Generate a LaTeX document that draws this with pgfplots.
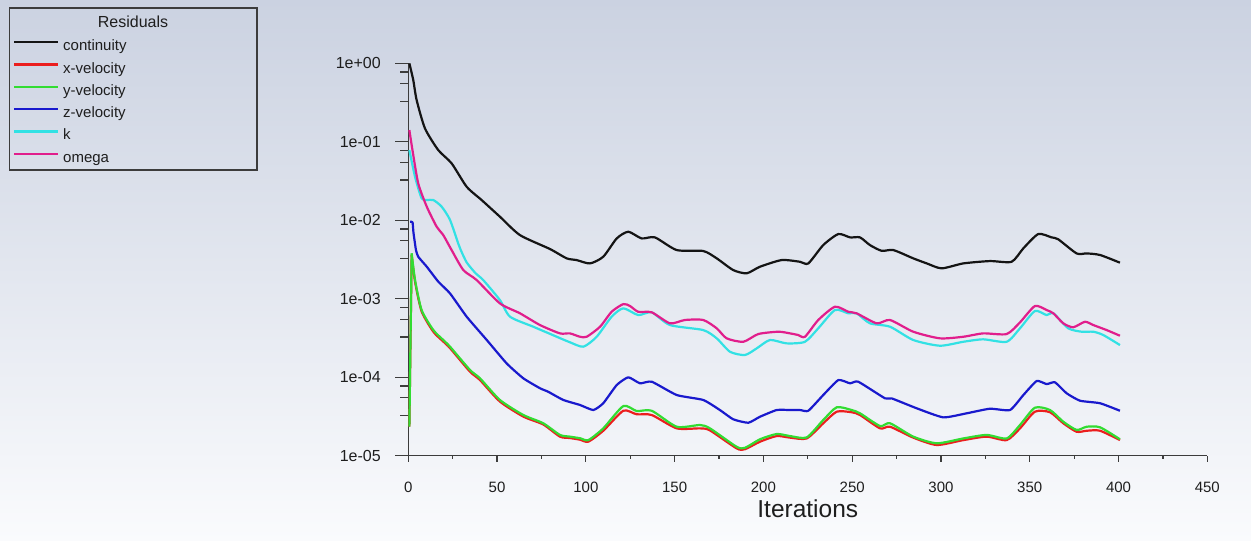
\documentclass[border=0pt]{standalone}
\usepackage{fontspec}
\setmainfont{Liberation Sans}
\usepackage{pgfplots}
\pgfplotsset{compat=1.18}

\definecolor{bgtop}{RGB}{203,210,225}
\definecolor{bgbot}{RGB}{250,251,253}
\definecolor{axcol}{RGB}{60,60,60}
\definecolor{txtcol}{RGB}{30,30,30}
\definecolor{ccont}{RGB}{20,20,20}
\definecolor{cxvel}{RGB}{235,30,30}
\definecolor{cyvel}{RGB}{50,220,50}
\definecolor{czvel}{RGB}{25,25,205}
\definecolor{ck}{RGB}{50,225,228}
\definecolor{comega}{RGB}{225,30,140}

\begin{document}
\begin{tikzpicture}[x=1pt,y=1pt]
  % background
  \shade[top color=bgtop, bottom color=bgbot] (0,0) rectangle (1251,541);
  % legend frame and title
  \draw[axcol, line width=1.5pt] (9.5,371) rectangle (257,533);
  \node[anchor=base, font=\fontsize{16}{19}\selectfont, text=txtcol] at (133,513.7) {Residuals};

  \begin{axis}[
    at={(408.3pt,85.3pt)}, anchor=south west,
    width=799pt, height=392.4pt, scale only axis,
    ymode=log,
    xmin=0, xmax=450, ymin=1e-5, ymax=1,
    axis x line=bottom, axis y line=left,
    axis line style={-, axcol, line width=1.3pt},
    tick style={axcol, line width=1.2pt},
    tick align=outside,
    major tick length=13pt, minor tick length=8pt,
    xtick={0,50,100,150,200,250,300,350,400,450},
    xticklabels={0,50,100,150,200,250,300,350,400,450},
    xtick style={dash pattern=on 0pt off 7pt on 6pt off 30pt},
    extra x ticks={25,75,125,175,225,275,325,375,425},
    extra x tick labels={},
    extra x tick style={xtick style={dash pattern=on 0pt off 10pt on 3pt off 30pt}},
    ytick={1e-5,1e-4,1e-3,1e-2,1e-1,1},
    yticklabels={1e-05,1e-04,1e-03,1e-02,1e-01,1e+00},
    minor ytick={3.25e-5,5.5e-5,7.75e-5,3.25e-4,5.5e-4,7.75e-4,3.25e-3,5.5e-3,7.75e-3,3.25e-2,5.5e-2,7.75e-2,3.25e-1,5.5e-1,7.75e-1},
    xticklabel style={anchor=base, yshift=-24pt, font=\fontsize{15}{18}\selectfont, text=txtcol},
    yticklabel style={anchor=east, xshift=-11pt, font=\fontsize{16}{19}\selectfont, text=txtcol},
    xlabel={Iterations},
    xlabel style={at={(axis description cs:0.5,-0.157)}, anchor=base, font=\fontsize{24.5}{28}\selectfont, text=txtcol},
    legend cell align=left,
    legend image code/.code={\draw[#1, line width=2.2pt] (0pt,5pt) -- (44pt,5pt);},
    legend style={at={(axis description cs:-0.4947,1.0601)}, anchor=north west,
      draw=none, fill=none, inner sep=0pt, outer sep=0pt, row sep=7.3pt,
      nodes={inner sep=0pt, text height=11pt, text depth=4pt,
        font=\fontsize{15}{18}\selectfont, text=txtcol},
      /tikz/every odd column/.append style={column sep=4pt}},
    every axis plot post/.append style={line width=2.2pt, line join=round},
  ]
    % continuity
    \addplot[ccont, smooth, tension=0.4] coordinates {
      (0.6,1.0) (2.8,0.611) (4.7,0.340) (9.4,0.148) (16.9,0.0783) (24.4,0.0531)
      (32.9,0.0267) (41.3,0.0181) (51.6,0.0111) (62.9,0.00647) (79.8,0.00430)
      (89.2,0.00327) (94.8,0.00311) (102.3,0.00282) (109.8,0.00343) (117.4,0.00587)
      (123.9,0.00714) (131.4,0.00587) (138.9,0.00605) (151.2,0.00417) (166.1,0.00406)
      (173.7,0.00327) (183,0.00232) (190.6,0.00211) (198.1,0.00256) (210.3,0.00311)
      (220.6,0.00296) (225.3,0.00282) (233.7,0.00483) (242.2,0.00667) (248.8,0.00605)
      (254.4,0.00605) (260,0.00483) (266.6,0.00408) (273.2,0.00417) (284.4,0.00327)
      (292,0.00282) (300.4,0.00244) (312.6,0.00282) (327.6,0.00302) (339.8,0.00296)
      (346.4,0.00439) (354.8,0.00667) (362.3,0.00605) (366.1,0.00571) (376.4,0.00378)
      (382.1,0.00378) (389.6,0.00361) (400.8,0.00288)
    };
    \addlegendentry{continuity}
    % x-velocity
    \addplot[cxvel, smooth, tension=0.4] coordinates {
      (1.9,3.6e-3) (3.8,1.65e-3) (7.5,6.9e-4) (14.1,3.8e-4) (19.7,2.85e-4)
      (23.5,2.35e-4) (34.7,1.18e-4) (40.4,9.2e-5) (51.6,4.9e-5) (64.8,3.15e-5) (76,2.5e-5)
      (85.4,1.75e-5) (91,1.68e-5) (96.7,1.6e-5) (101.4,1.51e-5) (109.8,2.08e-5)
      (121.1,3.74e-5) (128.6,3.37e-5) (137.1,3.30e-5) (151.2,2.23e-5) (164.3,2.23e-5)
      (169.9,2.1e-5) (184.9,1.24e-5) (189.6,1.21e-5) (198.1,1.51e-5) (207.5,1.78e-5)
      (215,1.70e-5) (224.4,1.66e-5) (233.7,2.59e-5) (241.3,3.64e-5) (249.7,3.58e-5)
      (254.4,3.30e-5) (265.7,2.23e-5) (271.3,2.34e-5) (284.4,1.70e-5) (297.6,1.37e-5)
      (312.6,1.58e-5) (325.7,1.75e-5) (337,1.58e-5) (344.5,2.23e-5) (352.9,3.64e-5)
      (361.4,3.58e-5) (368.9,2.59e-5) (376.4,2.02e-5) (382.1,2.08e-5) (389.6,2.08e-5)
      (400.8,1.58e-5)
    };
    \addlegendentry{x-velocity}
    \addplot[cxvel, forget plot] coordinates {(0.6,2.34e-5) (1.9,3.6e-3)};
    % y-velocity
    \addplot[cyvel, smooth, tension=0.4] coordinates {
      (1.9,3.78e-3) (3.8,1.73e-3) (7.5,7.18e-4) (14.1,3.99e-4) (19.7,2.98e-4)
      (23.5,2.45e-4) (34.7,1.24e-4) (40.4,9.68e-5) (51.6,5.13e-5) (64.8,3.30e-5) (76,2.59e-5)
      (85.4,1.84e-5) (91,1.75e-5) (96.7,1.67e-5) (101.4,1.58e-5) (109.8,2.23e-5)
      (121.1,4.29e-5) (128.6,3.71e-5) (137.1,3.74e-5) (151.2,2.34e-5) (164.3,2.46e-5)
      (169.9,2.23e-5) (184.9,1.30e-5) (189.6,1.26e-5) (198.1,1.62e-5) (207.5,1.89e-5)
      (215,1.78e-5) (224.4,1.71e-5) (233.7,2.85e-5) (241.3,4.14e-5) (249.7,3.82e-5)
      (254.4,3.47e-5) (265.7,2.39e-5) (271.3,2.59e-5) (284.4,1.75e-5) (297.6,1.44e-5)
      (312.6,1.66e-5) (325.7,1.84e-5) (337,1.66e-5) (344.5,2.46e-5) (352.9,4.09e-5)
      (361.4,3.82e-5) (368.9,2.71e-5) (376.4,2.13e-5) (382.1,2.34e-5) (389.6,2.30e-5)
      (400.8,1.62e-5)
    };
    \addlegendentry{y-velocity}
    \addplot[cyvel, forget plot] coordinates {(0.6,2.34e-5) (1.9,3.78e-3)};
    % z-velocity
    \addplot[czvel, smooth, tension=0.3] coordinates {
      (1,9.6e-3) (2.4,9.4e-3) (2.9,7.0e-3) (4.3,4.2e-3) (5.6,3.43e-3) (10.4,2.56e-3)
      (16.9,1.65e-3) (23.5,1.17e-3) (32.9,5.9e-4) (44.2,2.98e-4) (55.4,1.50e-4)
      (64.8,9.68e-5) (74.2,7.23e-5) (78.8,6.53e-5) (87.3,5.13e-5) (96.7,4.43e-5)
      (104.2,3.82e-5) (109.8,4.66e-5) (117.4,7.96e-5) (123.9,9.98e-5) (130.5,8.36e-5)
      (137.1,8.77e-5) (151.2,5.93e-5) (166.1,5.13e-5) (175.5,3.82e-5) (183,2.91e-5)
      (191.5,2.63e-5) (198.1,3.14e-5) (207.5,3.82e-5) (215,3.82e-5) (220.6,3.82e-5)
      (225.3,3.74e-5) (233.7,5.93e-5) (242.2,9.20e-5) (248.8,8.36e-5) (253.4,8.77e-5)
      (268.5,5.38e-5) (272.2,5.38e-5) (286.3,4.02e-5) (301.3,3.08e-5) (314.5,3.47e-5)
      (327.6,3.97e-5) (338.9,3.82e-5) (346.4,5.93e-5) (353.9,8.95e-5) (359.5,8.18e-5)
      (364.2,8.61e-5) (370.8,6.24e-5) (378.3,5.02e-5) (389.6,4.66e-5) (400.8,3.74e-5)
    };
    \addlegendentry{z-velocity}
    % k
    \addplot[ck, smooth, tension=0.4] coordinates {
      (0.6,7.83e-2) (3.8,3.58e-2) (7.5,1.90e-2) (10.4,1.81e-2) (14.1,1.81e-2) (18.8,1.49e-2)
      (23.5,1.01e-2) (28.2,5.0e-3) (29.5,4.2e-3) (32.9,2.9e-3) (38,2.1e-3) (42.2,1.73e-3)
      (51.6,9.62e-4) (57.3,5.90e-4) (70.4,4.40e-4) (83.6,3.28e-4) (91,2.79e-4)
      (98.6,2.45e-4) (106.1,3.28e-4) (114.5,5.90e-4) (121.1,7.55e-4) (129.5,6.19e-4)
      (137.1,6.71e-4) (147.4,4.62e-4) (166.1,3.99e-4) (173.7,3.13e-4) (181.2,2.11e-4)
      (189.6,1.92e-4) (196.2,2.33e-4) (203.7,2.98e-4) (213.1,2.70e-4) (223.4,2.83e-4)
      (230.9,4.20e-4) (240.3,7.18e-4) (247.8,6.52e-4) (252.5,6.52e-4) (260,4.86e-4)
      (271.3,4.40e-4) (284.4,2.98e-4) (299.4,2.52e-4) (312.6,2.83e-4) (323.8,3.04e-4)
      (337,2.83e-4) (344.5,4.20e-4) (352.9,6.97e-4) (359.5,6.19e-4) (363.3,6.52e-4)
      (371.7,4.20e-4) (379.3,3.80e-4) (385.8,3.80e-4) (391.4,3.45e-4) (400.8,2.57e-4)
    };
    \addlegendentry{k}
    % omega
    \addplot[comega, smooth, tension=0.4] coordinates {
      (0.6,0.141) (2.5,7.46e-2) (5.6,2.95e-2) (10.4,1.49e-2) (16,8.26e-3) (19.7,6.47e-3)
      (24.4,4.17e-3) (31,2.32e-3) (38.5,1.73e-3) (51.6,8.73e-4) (62.9,6.52e-4)
      (74.2,4.62e-4) (85.4,3.62e-4) (91,3.62e-4) (96.7,3.28e-4) (100.5,3.28e-4)
      (108,4.40e-4) (114.5,6.82e-4) (121.1,8.55e-4) (124.9,8.07e-4) (129.5,6.82e-4)
      (137.1,6.71e-4) (147.4,4.86e-4) (155.8,5.36e-4) (166.1,5.36e-4) (173.7,4.20e-4)
      (179.3,3.13e-4) (188.7,2.83e-4) (197.1,3.55e-4) (208.4,3.80e-4) (215,3.62e-4)
      (219.6,3.45e-4) (223.4,3.28e-4) (230.9,5.36e-4) (240.3,7.91e-4) (247.8,6.82e-4)
      (252.5,6.52e-4) (263.8,4.86e-4) (271.3,5.36e-4) (284.4,3.80e-4) (299.4,3.13e-4)
      (312.6,3.28e-4) (323.8,3.62e-4) (337,3.55e-4) (344.5,5.0e-4) (352.9,8.07e-4)
      (359.5,7.18e-4) (363.3,6.52e-4) (368.9,4.86e-4) (374.5,4.33e-4) (381.1,5.09e-4)
      (385.8,4.62e-4) (393.3,3.99e-4) (400.8,3.38e-4)
    };
    \addlegendentry{omega}
  \end{axis}
  \pgfresetboundingbox
  \useasboundingbox (0,0) rectangle (1251,541);
\end{tikzpicture}
\end{document}
